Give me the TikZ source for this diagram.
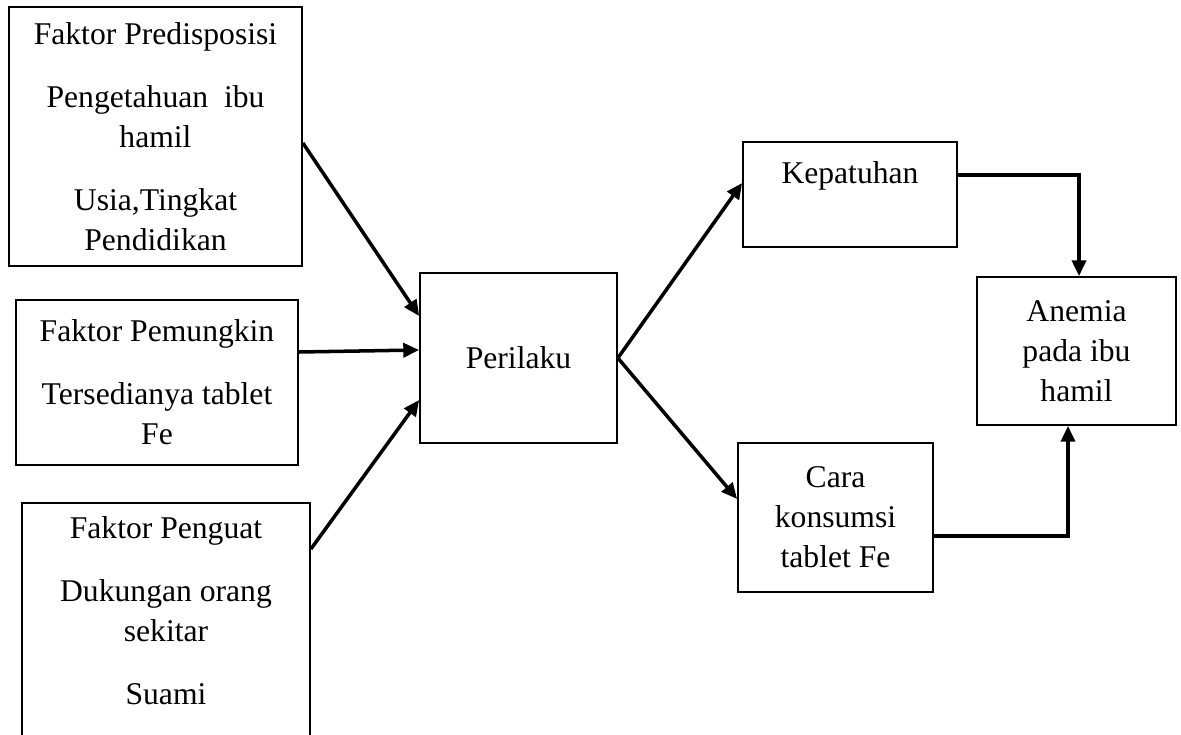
\documentclass[tikz,border=0pt]{standalone}
\usepackage{fontspec}
\setmainfont{Liberation Serif}
\usetikzlibrary{arrows.meta}

\begin{document}
\begin{tikzpicture}[
  box/.style={draw,line width=1pt,align=center,inner sep=0pt},
  arr/.style={line width=2pt,-{Triangle[length=9pt,width=8pt]}},
  font=\fontsize{18}{22.8}\selectfont]
\useasboundingbox (0,0) rectangle (23.62,14.68);

\node[box,minimum width=5.86cm,minimum height=5.18cm] (predis) at (3.11,11.95)
  {Faktor Predisposisi\\[0.46cm]Pengetahuan\ \ ibu\\hamil\\[0.46cm]Usia,Tingkat\\Pendidikan};
\node[box,minimum width=5.64cm,minimum height=3.30cm] (pemungkin) at (3.14,7.03)
  {Faktor Pemungkin\\[0.46cm]Tersedianya tablet\\Fe};
\node[box,anchor=north,minimum width=5.76cm,minimum height=5.3cm] (penguatbox) at (3.32,4.64) {};
\node[align=center] (penguat) at (3.32,2.46)
  {Faktor Penguat\\[0.46cm]Dukungan orang\\sekitar\\[0.46cm]Suami};

\node[box,minimum width=3.94cm,minimum height=3.40cm] (perilaku) at (10.37,7.52) {Perilaku};
\node[box,minimum width=4.28cm,minimum height=2.10cm,text height=0.45cm,text depth=0.91cm] (patuh) at (17.00,10.79) {Kepatuhan};
\node[box,minimum width=3.90cm,minimum height=2.98cm] (cara) at (16.71,4.33) {Cara\\konsumsi\\tablet Fe};
\node[box,minimum width=3.98cm,minimum height=2.96cm] (anemia) at (21.53,7.66) {Anemia\\pada ibu\\hamil};

\draw[arr] ([yshift=-0.13cm]predis.east) -- ([yshift=0.84cm]perilaku.west);
\draw[arr] ([yshift=0.61cm]pemungkin.east) -- ([yshift=0.16cm]perilaku.west);
\draw[arr] ([yshift=-0.94cm]penguatbox.north east) -- ([yshift=-0.84cm]perilaku.west);
\draw[arr] (perilaku.east) -- ([yshift=0.23cm]patuh.west);
\draw[arr] (perilaku.east) -- ([yshift=0.37cm]cara.west);
\draw[arr] ([yshift=0.39cm]patuh.east) -| ([xshift=0.05cm]anemia.north);
\draw[arr] ([yshift=-0.37cm]cara.east) -| ([xshift=-0.17cm]anemia.south);
\end{tikzpicture}
\end{document}
